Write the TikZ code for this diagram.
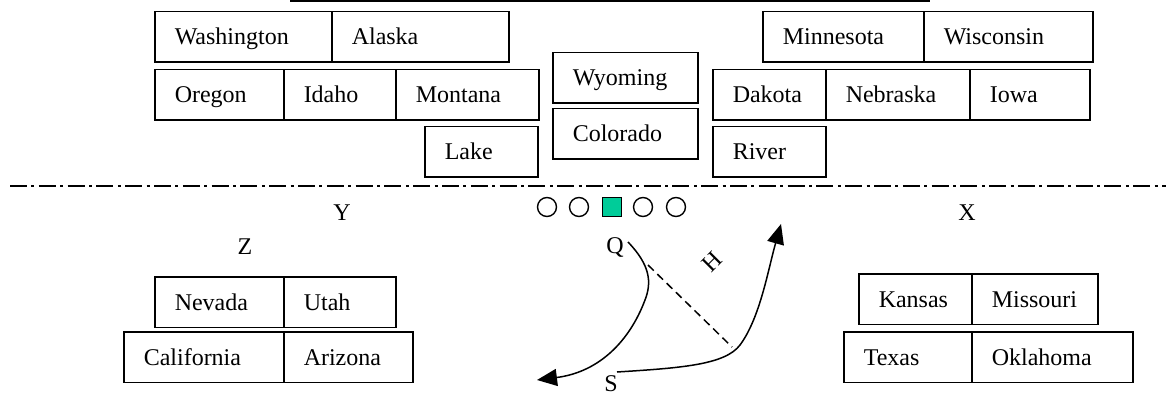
\documentclass[tikz,border=0pt]{standalone}
\usepackage{fontspec}
\setmainfont{Liberation Serif}
\usetikzlibrary{arrows.meta}

\definecolor{snapfill}{RGB}{0,204,153}

\begin{document}
\begin{tikzpicture}[
x=1pt, y=-1pt,
every node/.style={
font=\fontsize{24}{28}\selectfont
},
box/.style={
draw,
line width=1.5pt,
anchor=north west,
align=left,
inner xsep=20pt,
text height=16pt,
text depth=0pt,
minimum height=50.5pt
},
oline/.style={
draw,
circle,
line width=1.4pt,
inner sep=0pt,
minimum size=19pt
},
snapper/.style={
draw,
fill=snapfill,
line width=1.4pt,
inner sep=0pt,
minimum size=19pt
},
route/.style={
line width=1.5pt,
-{Triangle[length=20pt,width=17pt]}
}
]

\useasboundingbox (0,0) rectangle (1166,395);

% top rows
\node[box, text width=137pt] (WA) at (154,11)
{Washington};
\node[box, text width=137pt] (AK) at (331,11)
{Alaska};
\node[box, text width=121pt] (MN) at (762,11)
{Minnesota};
\node[box, text width=129pt] (WI) at (923,11)
{Wisconsin};

\node[box, text width=89pt] (OR) at (154,69)
{Oregon};
\node[box, text width=72pt] (ID) at (283,69)
{Idaho};
\node[box, text width=103pt] (MT) at (395,69)
{Montana};
\node[box, text width=73pt] (DK) at (712,69)
{Dakota};
\node[box, text width=104pt] (NE) at (825,69)
{Nebraska};
\node[box, text width=80pt] (IA) at (969,69)
{Iowa};

\node[box, text width=105pt] (WY) at (552,52)
{Wyoming};
\node[box, text width=105pt] (CO) at (552,108)
{Colorado};

\node[box, text width=73pt] (LK) at (424,126)
{Lake};
\node[box, text width=73pt] (RV) at (712,126)
{River};

% bottom left
\node[box, text width=89pt] (NV) at (154,276)
{Nevada};
\node[box, text width=72pt] (UT) at (283,276)
{Utah};
\node[box, text width=120pt] (CA) at (123,331)
{California};
\node[box, text width=89pt] (AZ) at (283,331)
{Arizona};

% bottom right
\node[box, text width=73pt] (KS) at (858,273)
{Kansas};
\node[box, text width=86pt] (MO) at (971,273)
{Missouri};
\node[box, text width=88pt] (TX) at (843,331)
{Texas};
\node[box, text width=121pt] (OK) at (971,331)
{Oklahoma};

% lines
\draw[line width=2pt] (290,1) -- (930,1);
\draw[line width=2pt, dash pattern=on 17pt off 4.4pt on 3pt off 4.4pt]
(10,186) -- (1166,186);

% letters
\node (Y) at (342,213) {Y};
\node (X) at (967,213) {X};
\node (Z) at (245,247) {Z};
\node (Q) at (615,248) {Q};
\node[inner sep=1pt] (S) at (611,384) {S};
\node[rotate=45] (H) at (712,262) {H};

% line of scrimmage
\node[oline] (L1) at (547,207) {};
\node[oline] (L2) at (579,207) {};
\node[snapper] (C) at (612,207) {};
\node[oline] (L3) at (643,207) {};
\node[oline] (L4) at (676,207) {};

% routes
\coordinate (q0) at (628,242);
\coordinate (q1) at (537,380);
\coordinate (s0) at (617,372);
\coordinate (s1) at (781,224);
\coordinate (h0) at (648,265);
\coordinate (h1) at (732,347);

\draw[route] (q0) .. controls (650,265) and (652,282) .. (645,300)
.. controls (630,340) and (600,372) .. (q1);
\draw[route] (s0) .. controls (680,368) and (725,365) .. (740,345)
.. controls (760,318) and (768,270) .. (s1);
\draw[line width=1.5pt, dash pattern=on 8pt off 5pt] (h0) -- (h1);

\end{tikzpicture}
\end{document}
